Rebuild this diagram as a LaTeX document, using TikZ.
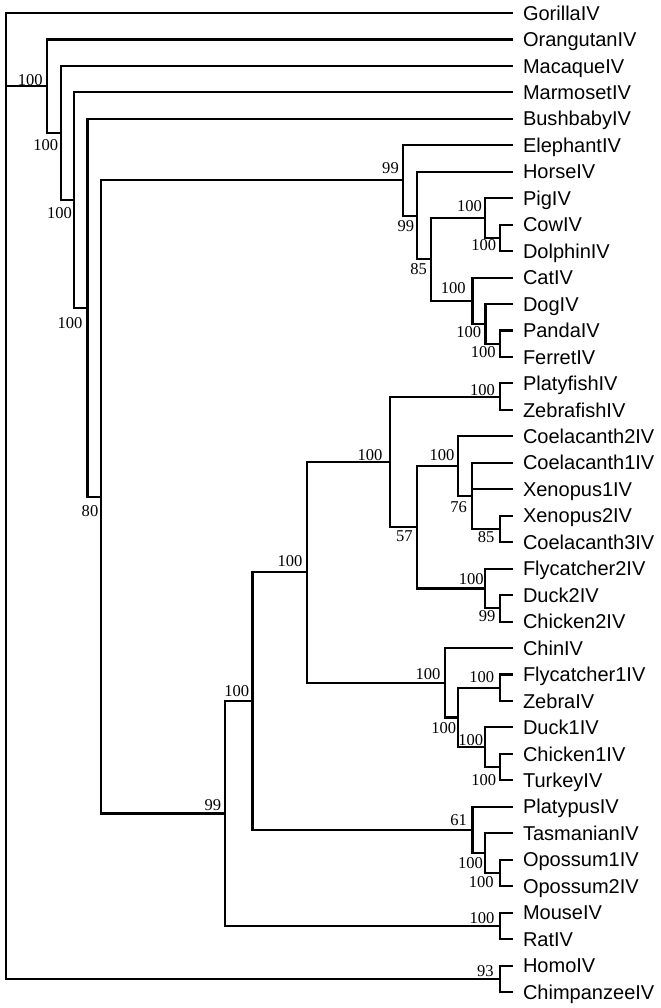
\documentclass[tikz,border=0pt]{standalone}
\usepackage{fontspec}
\newfontfamily\leaffont{Liberation Sans}
\newfontfamily\bootfont{Liberation Serif}

\begin{document}
\begin{tikzpicture}[x=1bp,y=-1bp,
  br/.style={line width=2.1bp,line join=miter},
  leaf/.style={anchor=west,inner xsep=9.7bp,inner ysep=0pt,outer sep=0pt,
    text height=14.3pt,text depth=0pt,font=\leaffont\fontsize{20.1pt}{22pt}\selectfont},
  boot/.style={inner sep=0pt,font=\bootfont\fontsize{16.6pt}{18pt}\selectfont}]
\useasboundingbox (0,0) rectangle (661,1008);
% leaves
\node[leaf] (Gorilla) at (513.3,13.00) {GorillaIV};
\node[leaf] (Orangutan) at (513.3,39.46) {OrangutanIV};
\node[leaf] (Macaque) at (513.3,65.92) {MacaqueIV};
\node[leaf] (Marmoset) at (513.3,92.38) {MarmosetIV};
\node[leaf] (Bushbaby) at (513.3,118.84) {BushbabyIV};
\node[leaf] (Elephant) at (513.3,145.30) {ElephantIV};
\node[leaf] (Horse) at (513.3,171.76) {HorseIV};
\node[leaf] (Pig) at (513.3,198.22) {PigIV};
\node[leaf] (Cow) at (513.3,224.68) {CowIV};
\node[leaf] (Dolphin) at (513.3,251.14) {DolphinIV};
\node[leaf] (Cat) at (513.3,277.60) {CatIV};
\node[leaf] (Dog) at (513.3,304.06) {DogIV};
\node[leaf] (Panda) at (513.3,330.52) {PandaIV};
\node[leaf] (Ferret) at (513.3,356.98) {FerretIV};
\node[leaf] (Platyfish) at (513.3,383.44) {PlatyfishIV};
\node[leaf] (Zebrafish) at (513.3,409.90) {ZebrafishIV};
\node[leaf] (Coel2) at (513.3,436.36) {Coelacanth2IV};
\node[leaf] (Coel1) at (513.3,462.82) {Coelacanth1IV};
\node[leaf] (Xen1) at (513.3,489.28) {Xenopus1IV};
\node[leaf] (Xen2) at (513.3,515.74) {Xenopus2IV};
\node[leaf] (Coel3) at (513.3,542.20) {Coelacanth3IV};
\node[leaf] (Fly2) at (513.3,568.66) {Flycatcher2IV};
\node[leaf] (Duck2) at (513.3,595.12) {Duck2IV};
\node[leaf] (Chick2) at (513.3,621.58) {Chicken2IV};
\node[leaf] (Chin) at (513.3,648.04) {ChinIV};
\node[leaf] (Fly1) at (513.3,674.50) {Flycatcher1IV};
\node[leaf] (Zebra) at (513.3,700.96) {ZebraIV};
\node[leaf] (Duck1) at (513.3,727.42) {Duck1IV};
\node[leaf] (Chick1) at (513.3,753.88) {Chicken1IV};
\node[leaf] (Turkey) at (513.3,780.34) {TurkeyIV};
\node[leaf] (Platypus) at (513.3,806.80) {PlatypusIV};
\node[leaf] (Tasmanian) at (513.3,833.26) {TasmanianIV};
\node[leaf] (Opo1) at (513.3,859.72) {Opossum1IV};
\node[leaf] (Opo2) at (513.3,886.18) {Opossum2IV};
\node[leaf] (Mouse) at (513.3,912.64) {MouseIV};
\node[leaf] (Rat) at (513.3,939.10) {RatIV};
\node[leaf] (Homo) at (513.3,965.56) {HomoIV};
\node[leaf] (Chimp) at (513.3,992.02) {ChimpanzeeIV};
% inner nodes
\coordinate (root) at (5.7,86.25);
\coordinate (c46) at (46.7,86.25);
\coordinate (c61) at (60.7,133.04);
\coordinate (c74) at (74.2,200.15);
\coordinate (c88) at (87.5,307.91);
\coordinate (cLow) at (101,496.98);
\coordinate (cEle) at (403,180.44);
\coordinate (cHorse) at (416.7,215.59);
\coordinate (cLau) at (430.7,259.41);
\coordinate (cPig) at (485,218.07);
\coordinate (cCD) at (499.7,237.91);
\coordinate (cCat) at (472.5,300.76);
\coordinate (cDog) at (485.5,323.91);
\coordinate (cPF) at (499.7,343.75);
\coordinate (cMam) at (225,813.52);
\coordinate (cAmn) at (252.5,701.17);
\coordinate (cIV) at (307,572.38);
\coordinate (cFish) at (389.7,461.99);
\coordinate (cPZ) at (499.7,396.67);
\coordinate (cTetra) at (417.3,527.32);
\coordinate (cCo2) at (458,466.13);
\coordinate (cCo1) at (472,495.90);
\coordinate (cXC) at (499.7,528.97);
\coordinate (cFly2) at (485,588.50);
\coordinate (cDC) at (499.7,608.35);
\coordinate (cChin) at (445,682.77);
\coordinate (cBird) at (458.3,717.50);
\coordinate (cFZ) at (499.7,687.73);
\coordinate (cDuck1) at (485,747.27);
\coordinate (cCT) at (499.7,767.11);
\coordinate (cPlaty) at (472.5,829.95);
\coordinate (cTas) at (485,853.10);
\coordinate (cOp) at (499.7,872.95);
\coordinate (cMR) at (499.7,925.87);
\coordinate (cHC) at (499.7,978.79);
% branches
\draw[br] (root) |- (Gorilla.west) (root) -- (c46) (root) |- (cHC);
\draw[br] (c46) |- (Orangutan.west) (c46) |- (c61);
\draw[br] (c61) |- (Macaque.west) (c61) |- (c74);
\draw[br] (c74) |- (Marmoset.west) (c74) |- (c88);
\draw[br] (c88) |- (Bushbaby.west) (c88) |- (cLow);
\draw[br] (cLow) |- (cEle) (cLow) |- (cMam);
\draw[br] (cEle) |- (Elephant.west) (cEle) |- (cHorse);
\draw[br] (cHorse) |- (Horse.west) (cHorse) |- (cLau);
\draw[br] (cLau) |- (cPig) (cLau) |- (cCat);
\draw[br] (cPig) |- (Pig.west) (cPig) |- (cCD);
\draw[br] (cCD) |- (Cow.west) (cCD) |- (Dolphin.west);
\draw[br] (cCat) |- (Cat.west) (cCat) |- (cDog);
\draw[br] (cDog) |- (Dog.west) (cDog) |- (cPF);
\draw[br] (cPF) |- (Panda.west) (cPF) |- (Ferret.west);
\draw[br] (cMam) |- (cAmn) (cMam) |- (cMR);
\draw[br] (cAmn) |- (cIV) (cAmn) |- (cPlaty);
\draw[br] (cIV) |- (cFish) (cIV) |- (cChin);
\draw[br] (cFish) |- (cPZ) (cFish) |- (cTetra);
\draw[br] (cPZ) |- (Platyfish.west) (cPZ) |- (Zebrafish.west);
\draw[br] (cTetra) |- (cCo2) (cTetra) |- (cFly2);
\draw[br] (cCo2) |- (Coel2.west) (cCo2) |- (cCo1);
\draw[br] (cCo1) |- (Coel1.west) (cCo1) |- (Xen1.west) (cCo1) |- (cXC);
\draw[br] (cXC) |- (Xen2.west) (cXC) |- (Coel3.west);
\draw[br] (cFly2) |- (Fly2.west) (cFly2) |- (cDC);
\draw[br] (cDC) |- (Duck2.west) (cDC) |- (Chick2.west);
\draw[br] (cChin) |- (Chin.west) (cChin) |- (cBird);
\draw[br] (cBird) |- (cFZ) (cBird) |- (cDuck1);
\draw[br] (cFZ) |- (Fly1.west) (cFZ) |- (Zebra.west);
\draw[br] (cDuck1) |- (Duck1.west) (cDuck1) |- (cCT);
\draw[br] (cCT) |- (Chick1.west) (cCT) |- (Turkey.west);
\draw[br] (cPlaty) |- (Platypus.west) (cPlaty) |- (cTas);
\draw[br] (cTas) |- (Tasmanian.west) (cTas) |- (cOp);
\draw[br] (cOp) |- (Opo1.west) (cOp) |- (Opo2.west);
\draw[br] (cMR) |- (Mouse.west) (cMR) |- (Rat.west);
\draw[br] (cHC) |- (Homo.west) (cHC) |- (Chimp.west);
% bootstrap values
\node[boot] (b46) at (30.3,80) {100};
\node[boot] (b61) at (45.7,145.3) {100};
\node[boot] (b74) at (59.5,213.2) {100};
\node[boot] (b88) at (70,323.2) {100};
\node[boot] (bLow) at (90,511) {80};
\node[boot] (bEle) at (390.5,168.3) {99};
\node[boot] (bHorse) at (405.8,225.8) {99};
\node[boot] (bLau) at (418.7,268.8) {85};
\node[boot] (bPig) at (469.5,205.8) {100};
\node[boot] (bCD) at (483.8,245) {100};
\node[boot] (bCat) at (453.3,288.3) {100};
\node[boot] (bDog) at (468.7,332.5) {100};
\node[boot] (bPF) at (483.3,351.7) {100};
\node[boot] (bPZ) at (482.5,390) {100};
\node[boot] (bFish) at (370,454.7) {100};
\node[boot] (bCo2) at (442,455.3) {100};
\node[boot] (bTetra) at (404.3,536.2) {57};
\node[boot] (bCo1) at (458.7,507.5) {76};
\node[boot] (bXC) at (486.2,537.2) {85};
\node[boot] (bFly2) at (471.3,579.2) {100};
\node[boot] (bDC) at (487.2,616.2) {99};
\node[boot] (bChin) at (428,674) {100};
\node[boot] (bFZ) at (481.7,677) {100};
\node[boot] (bBird) at (443.8,728.3) {100};
\node[boot] (bDuck1) at (470.8,739.7) {100};
\node[boot] (bCT) at (483.7,780.2) {100};
\node[boot] (bPlaty) at (458.7,819.8) {61};
\node[boot] (bTas) at (470.5,862.8) {100};
\node[boot] (bOp) at (481.3,882.5) {100};
\node[boot] (bMR) at (482,918.3) {100};
\node[boot] (bHC) at (485.3,970.8) {93};
\node[boot] (bAmn) at (236.7,690.8) {100};
\node[boot] (bMam) at (212.8,805) {99};
\node[boot] (bIV) at (290,560.8) {100};
\end{tikzpicture}
\end{document}
